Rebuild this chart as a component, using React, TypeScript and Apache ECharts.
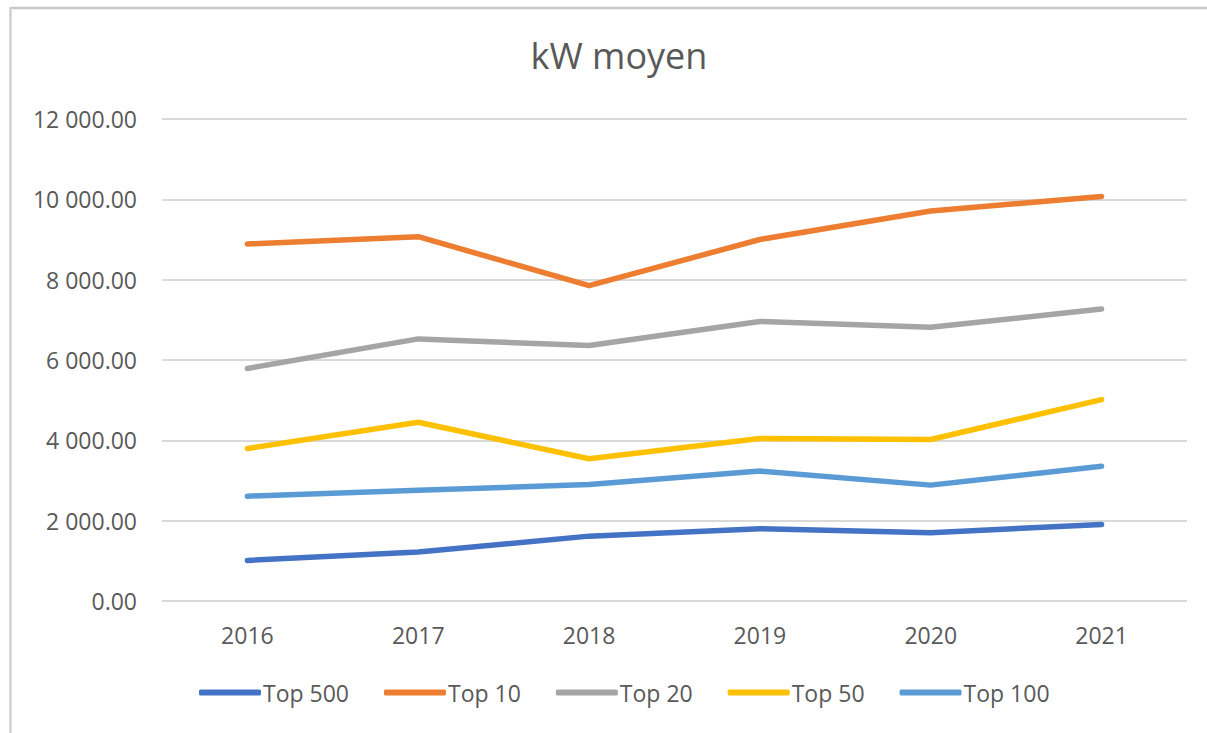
import React, { useEffect, useRef } from "react";
import * as echarts from "echarts";

const years = ["2016", "2017", "2018", "2019", "2020", "2021"];
const top500 = [1010, 1220, 1615, 1800, 1700, 1905];
const top10 = [8890, 9070, 7850, 9000, 9710, 10070];
const top20 = [5790, 6525, 6360, 6960, 6815, 7270];
const top50 = [3795, 4450, 3540, 4045, 4020, 5015];
const top100 = [2610, 2755, 2900, 3235, 2885, 3355];

const seriesNames = ["Top 500", "Top 10", "Top 20", "Top 50", "Top 100"];
const seriesData = [top500, top10, top20, top50, top100];
const colors = ["#4472C4", "#ED7D31", "#A5A5A5", "#FFC000", "#5B9BD5"];

function fmt(v: number): string {
  const s = Math.round(v).toString();
  const grouped = s.replace(/\B(?=(\d{3})+(?!\d))/g, " ");
  return grouped + ".00";
}

export default function App() {
  const ref = useRef<HTMLDivElement>(null);
  useEffect(() => {
    if (!ref.current) return;
    const chart = echarts.init(ref.current, null, { renderer: "svg" });
    chart.setOption({
      animation: false,
      backgroundColor: "#ffffff",
      title: {
        text: "kW moyen",
        left: 614,
        textAlign: "center",
        top: 32,
        textStyle: { fontFamily: "Open Sans", fontSize: 36, fontWeight: "normal", color: "#595959" },
      },
      graphic: [
        { type: "line", shape: { x1: 10, y1: 8, x2: 1207, y2: 8 }, style: { stroke: "#c8c8c8", lineWidth: 2.5 } },
        { type: "line", shape: { x1: 10.5, y1: 7, x2: 10.5, y2: 733 }, style: { stroke: "#d0d0d0", lineWidth: 2.5 } },
      ],
      legend: {
        top: 676,
        left: 194,
        icon: "roundRect",
        itemWidth: 62,
        itemHeight: 6,
        itemGap: 35,
        textStyle: { fontFamily: "Open Sans", fontSize: 23, color: "#595959", padding: [0, 0, 0, -3] },
        data: seriesNames,
      },
      grid: { left: 162, right: 20, top: 119, bottom: 132, containLabel: false },
      xAxis: {
        type: "category",
        data: years,
        boundaryGap: true,
        axisLine: { show: false },
        axisTick: { show: false },
        axisLabel: { fontFamily: "Open Sans", fontSize: 23, color: "#595959", margin: 22 },
      },
      yAxis: {
        type: "value",
        min: 0,
        max: 12000,
        interval: 2000,
        axisLine: { show: false },
        axisTick: { show: false },
        axisLabel: { fontFamily: "Open Sans", fontSize: 23, color: "#595959", margin: 25, formatter: (v: number) => fmt(v) },
        splitLine: { lineStyle: { color: "#d9d9d9", width: 2 } },
      },
      series: seriesNames.map((name, i) => ({
        name,
        type: "line",
        data: seriesData[i],
        symbol: "none",
        color: colors[i],
        lineStyle: { width: 5.5, color: colors[i], cap: "round", join: "round" },
      })),
    });
    return () => chart.dispose();
  }, []);
  return <div ref={ref} style={{ position: "fixed", left: 0, top: 0, width: 1207, height: 733 }} />;
}
